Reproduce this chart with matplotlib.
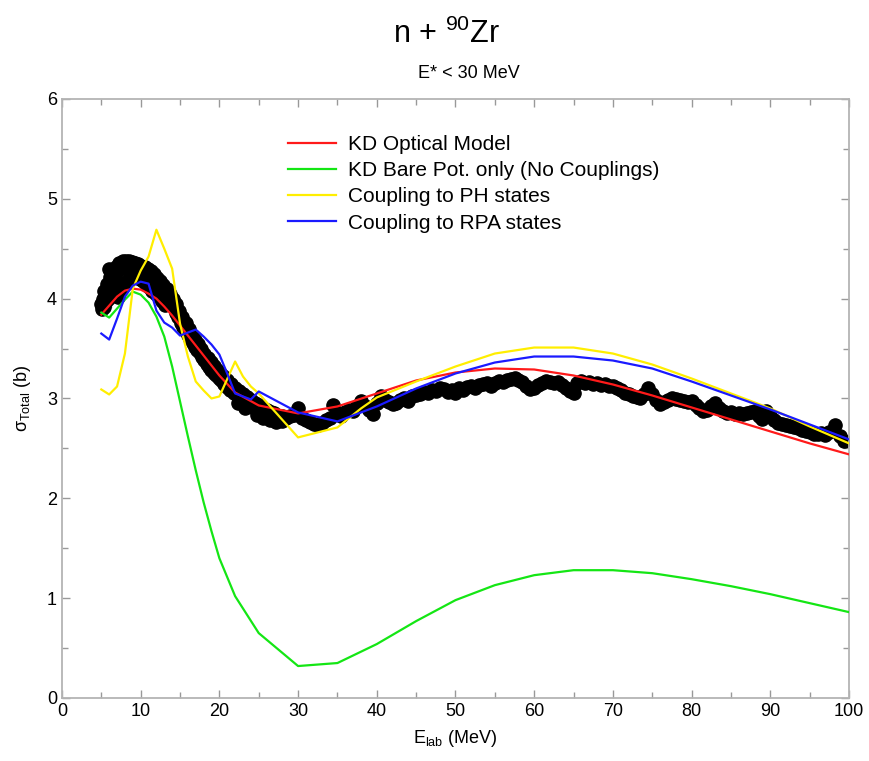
import matplotlib
matplotlib.use("Agg")
import matplotlib.pyplot as plt
from matplotlib.ticker import MultipleLocator

plt.rcParams['font.family'] = ['Liberation Sans', 'DejaVu Sans']
plt.rcParams['mathtext.fontset'] = 'custom'
plt.rcParams['mathtext.rm'] = 'Liberation Sans'
plt.rcParams['mathtext.it'] = 'Liberation Sans:italic'

# model curves (energy in MeV, sigma in b)
kd_e = [5, 6, 7, 8, 9, 10, 11, 12, 13, 14, 15, 16, 17, 18, 19, 20, 22, 25, 30,
        35, 40, 45, 50, 55, 60, 65, 70, 75, 80, 85, 90, 95, 100]
kd_sig = [3.84, 3.93, 4.02, 4.08, 4.10, 4.09, 4.05, 4.00, 3.92, 3.83, 3.73, 3.63,
          3.53, 3.43, 3.33, 3.23, 3.06, 2.93, 2.85, 2.92, 3.05, 3.18, 3.26, 3.30,
          3.29, 3.23, 3.14, 3.03, 2.91, 2.79, 2.67, 2.55, 2.44]

bare_e = [5, 6, 7, 8, 9, 10, 11, 12, 13, 14, 15, 16, 17, 18, 19, 20, 22, 25, 30,
          35, 40, 45, 50, 55, 60, 65, 70, 75, 80, 85, 90, 95, 100]
bare_sig = [3.86, 3.81, 3.90, 3.99, 4.07, 4.04, 3.96, 3.82, 3.62, 3.32, 2.97, 2.62,
            2.28, 1.96, 1.67, 1.40, 1.02, 0.65, 0.32, 0.35, 0.54, 0.77, 0.98, 1.13,
            1.23, 1.28, 1.28, 1.25, 1.19, 1.12, 1.04, 0.95, 0.86]

ph_e = [5, 6, 7, 8, 9, 10, 11, 12, 13, 14, 15, 16, 17, 18, 19, 20, 22, 23, 24, 25,
        30, 35, 38, 40, 45, 50, 55, 60, 65, 70, 75, 80, 85, 90, 95, 100]
ph_sig = [3.09, 3.04, 3.12, 3.45, 4.10, 4.28, 4.42, 4.69, 4.50, 4.30, 3.75, 3.42,
          3.17, 3.08, 3.00, 3.02, 3.37, 3.22, 3.12, 3.05, 2.61, 2.71, 2.90, 3.01,
          3.17, 3.32, 3.45, 3.51, 3.51, 3.45, 3.34, 3.20, 3.05, 2.90, 2.72, 2.55]

rpa_e = [5, 6, 7, 8, 9, 10, 11, 12, 13, 14, 15, 17, 18, 19, 20, 21, 22, 24, 25,
         30, 35, 40, 45, 50, 55, 60, 65, 70, 75, 80, 85, 90, 95, 100]
rpa_sig = [3.65, 3.59, 3.80, 4.02, 4.13, 4.17, 4.15, 3.88, 3.76, 3.71, 3.63, 3.69,
           3.62, 3.54, 3.44, 3.25, 3.05, 2.99, 3.07, 2.86, 2.77, 2.92, 3.10, 3.25,
           3.36, 3.42, 3.42, 3.38, 3.30, 3.17, 3.03, 2.89, 2.74, 2.59]

# measured total cross section
data_e = [5.0, 5.2, 5.4, 5.6, 5.8, 6.0, 6.2, 6.4, 6.6, 6.8, 7.0, 7.2, 7.4, 7.6, 7.8,
          8.0, 8.2, 8.4, 8.6, 8.8, 9.0, 9.2, 9.4, 9.6, 9.8, 10.0, 10.3, 10.6, 10.9,
          11.2, 11.5, 11.8, 12.1, 12.4, 12.7, 13.0, 13.3, 13.6, 13.9, 14.2, 14.5,
          14.8, 15.1, 15.4, 15.7, 16.0, 16.3, 16.6, 16.9, 17.2, 17.5, 17.8, 18.1,
          18.4, 18.7, 19.0, 19.3, 19.6, 19.9, 20.2, 20.6, 21.0, 21.4, 21.8, 22.2,
          22.6, 23.0, 23.4, 23.8, 24.2, 24.6, 25.0, 25.5, 26.0, 26.5, 27.0, 27.5,
          28.0, 28.5, 29.0, 29.5, 30.0, 30.5, 31.0, 31.5, 32.0, 32.5, 33.0, 33.5,
          34.0, 34.5, 35.0, 35.5, 36.0, 36.5, 37.0, 37.5, 38.0, 38.5, 39.0, 39.5,
          40.0, 40.5, 41.0, 41.5, 42.0, 42.5, 43.0, 43.5, 44.0, 44.5, 45.0, 45.5,
          46.0, 46.5, 47.0, 47.5, 48.0, 48.5, 49.0, 49.5, 50.0, 50.5, 51.0, 51.5,
          52.0, 52.5, 53.0, 53.5, 54.0, 54.5, 55.0, 55.5, 56.0, 56.5, 57.0, 57.5,
          58.0, 58.5, 59.0, 59.5, 60.0, 60.5, 61.0, 61.5, 62.0, 62.5, 63.0, 63.5,
          64.0, 64.5, 65.0, 65.5, 66.0, 66.5, 67.0, 67.5, 68.0, 68.5, 69.0, 69.5,
          70.0, 70.5, 71.0, 71.5, 72.0, 72.5, 73.0, 73.5, 74.0, 74.5, 75.0, 75.5,
          76.0, 76.5, 77.0, 77.5, 78.0, 78.5, 79.0, 79.5, 80.0, 80.5, 81.0, 81.5,
          82.0, 82.5, 83.0, 83.5, 84.0, 84.5, 85.0, 85.5, 86.0, 86.5, 87.0, 87.5,
          88.0, 88.5, 89.0, 89.5, 90.0, 90.5, 91.0, 91.5, 92.0, 92.5, 93.0, 93.5,
          94.0, 94.5, 95.0, 95.5, 96.0, 96.5, 97.0, 97.5, 98.2, 98.8, 99.3]
data_sig = [3.95, 4.00, 3.92, 4.05, 4.10, 4.30, 4.15, 4.20, 4.24, 4.22, 4.28, 4.30,
            4.33, 4.31, 4.35, 4.33, 4.36, 4.34, 4.35, 4.33, 4.36, 4.34, 4.32, 4.34,
            4.31, 4.30, 4.28, 4.25, 4.27, 4.22, 4.20, 4.16, 4.14, 4.10, 4.08, 4.03,
            4.00, 3.96, 3.94, 3.92, 3.86, 3.82, 3.76, 3.72, 3.68, 3.64, 3.60, 3.56,
            3.52, 3.49, 3.46, 3.42, 3.39, 3.35, 3.32, 3.29, 3.26, 3.23, 3.20, 3.18,
            3.14, 3.11, 3.08, 3.05, 3.04, 3.00, 2.98, 2.95, 2.93, 2.91, 2.89, 2.87,
            2.85, 2.83, 2.82, 2.81, 2.80, 2.82, 2.80, 2.82, 2.83, 2.90, 2.80, 2.78,
            2.76, 2.74, 2.73, 2.75, 2.78, 2.80, 2.93, 2.85, 2.82, 2.86, 2.88, 2.87,
            2.92, 2.97, 2.92, 2.88, 2.84, 2.95, 3.02, 2.98, 2.96, 2.94, 2.95, 2.98,
            3.00, 2.97, 3.02, 3.03, 3.04, 3.06, 3.05, 3.08, 3.07, 3.10, 3.09, 3.06,
            3.08, 3.05, 3.10, 3.08, 3.11, 3.12, 3.10, 3.13, 3.14, 3.15, 3.12, 3.15,
            3.17, 3.16, 3.18, 3.19, 3.20, 3.18, 3.16, 3.12, 3.09, 3.10, 3.13, 3.15,
            3.17, 3.16, 3.15, 3.16, 3.13, 3.10, 3.07, 3.05, 3.15, 3.17, 3.15, 3.16,
            3.14, 3.15, 3.13, 3.14, 3.12, 3.12, 3.10, 3.08, 3.05, 3.04, 3.02, 3.01,
            3.00, 3.04, 3.10, 3.04, 2.98, 2.94, 2.96, 2.98, 3.00, 2.99, 2.98, 2.97,
            2.96, 2.97, 2.93, 2.90, 2.87, 2.88, 2.92, 2.95, 2.90, 2.87, 2.85, 2.86,
            2.84, 2.85, 2.84, 2.85, 2.86, 2.87, 2.82, 2.79, 2.87, 2.82, 2.78, 2.75,
            2.74, 2.73, 2.72, 2.71, 2.70, 2.68, 2.67, 2.66, 2.64, 2.64, 2.65, 2.63,
            2.66, 2.73, 2.62, 2.57]

# second measurement set, dense below 28 MeV
data2_e = [5.1, 5.3, 5.5, 5.7, 5.9, 6.1, 6.3, 6.5, 6.7, 6.9, 7.1, 7.3, 7.5, 7.7,
           7.9, 8.1, 8.3, 8.5, 8.7, 8.9, 9.1, 9.3, 9.5, 9.7, 9.9, 10.1, 10.3, 10.5,
           10.7, 10.9, 11.1, 11.3, 11.5, 11.7, 11.9, 12.1, 12.3, 12.5, 12.7, 12.9,
           13.1, 13.3, 13.7, 14.1, 14.5, 14.9, 15.3, 15.7, 16.1, 16.5, 16.9, 17.3,
           17.7, 18.1, 18.5, 18.9, 19.3, 19.7, 20.1, 20.5, 21.0, 21.5, 22.0, 22.4,
           22.5, 23.0, 23.2, 23.5, 24.0, 24.5, 24.8, 25.0, 25.5, 25.6, 26.0, 26.4,
           26.5, 27.0, 27.2, 28.0]
data2_sig = [3.90, 4.08, 3.96, 4.15, 4.00, 4.22, 4.04, 4.28, 4.08, 4.32, 4.02, 4.36,
             4.10, 4.38, 4.14, 4.38, 4.18, 4.38, 4.20, 4.37, 4.22, 4.36, 4.22, 4.35,
             4.20, 4.33, 4.18, 4.32, 4.15, 4.30, 4.12, 4.28, 4.08, 4.25, 4.05, 4.21,
             4.02, 4.18, 3.98, 4.14, 3.94, 4.10, 4.05, 4.00, 3.95, 3.88, 3.82, 3.76,
             3.70, 3.64, 3.59, 3.55, 3.50, 3.45, 3.41, 3.37, 3.33, 3.29, 3.26, 3.22,
             3.18, 3.14, 3.10, 2.95, 3.07, 3.04, 2.90, 3.01, 2.98, 2.95, 2.83, 2.93,
             2.90, 2.80, 2.88, 2.78, 2.86, 2.85, 2.76, 2.77]

fig = plt.figure(figsize=(8.69, 7.61), dpi=100)
ax = fig.add_axes([0.0713, 0.0828, 0.9057, 0.7872])

for xs, ys in [(data_e, data_sig), (data2_e, data2_sig)]:
    ax.errorbar(xs, ys, xerr=0.9, yerr=0.03, fmt='o', color='black',
                ms=9.5, ecolor='#c8c8c8', elinewidth=1.0, capsize=0, zorder=2)

ax.plot(kd_e, kd_sig, color='#ff1a1a', lw=1.6, label='KD Optical Model', zorder=3)
ax.plot(bare_e, bare_sig, color='#14e614', lw=1.6,
        label='KD Bare Pot. only (No Couplings)', zorder=3)
ax.plot(ph_e, ph_sig, color='#ffee00', lw=1.6, label='Coupling to PH states', zorder=3)
ax.plot(rpa_e, rpa_sig, color='#1a1aff', lw=1.6, label='Coupling to RPA states', zorder=3)

ax.set_xlim(0, 100)
ax.set_ylim(0, 6)
ax.xaxis.set_major_locator(MultipleLocator(10))
ax.xaxis.set_minor_locator(MultipleLocator(5))
ax.yaxis.set_major_locator(MultipleLocator(1))
ax.yaxis.set_minor_locator(MultipleLocator(0.5))
ax.tick_params(which='both', direction='in', top=True, right=True,
               color='#999999', labelsize=13, labelcolor='black')
ax.tick_params(which='major', length=6, width=1)
ax.tick_params(which='minor', length=4, width=1)
for s in ax.spines.values():
    s.set_color('#b4b4b4')
    s.set_linewidth(1.3)

ax.set_xlabel(r'$\mathregular{E_{lab}}$ (MeV)', fontsize=13, labelpad=6)
ax.set_ylabel(r'$\mathregular{\sigma_{Total}}$ (b)', fontsize=13, labelpad=10)

ax.legend(loc='upper left', bbox_to_anchor=(0.287, 0.940), frameon=False,
          fontsize=15, handlelength=2.3, handletextpad=0.6, labelspacing=0.35,
          borderpad=0, borderaxespad=0)

fig.text(0.514, 0.955, r'n + $\mathregular{^{90}}$Zr', ha='center', va='center',
         fontsize=22)
fig.text(0.540, 0.904, 'E* < 30 MeV', ha='center', va='center', fontsize=13)

fig.savefig('out.png', dpi=100)
